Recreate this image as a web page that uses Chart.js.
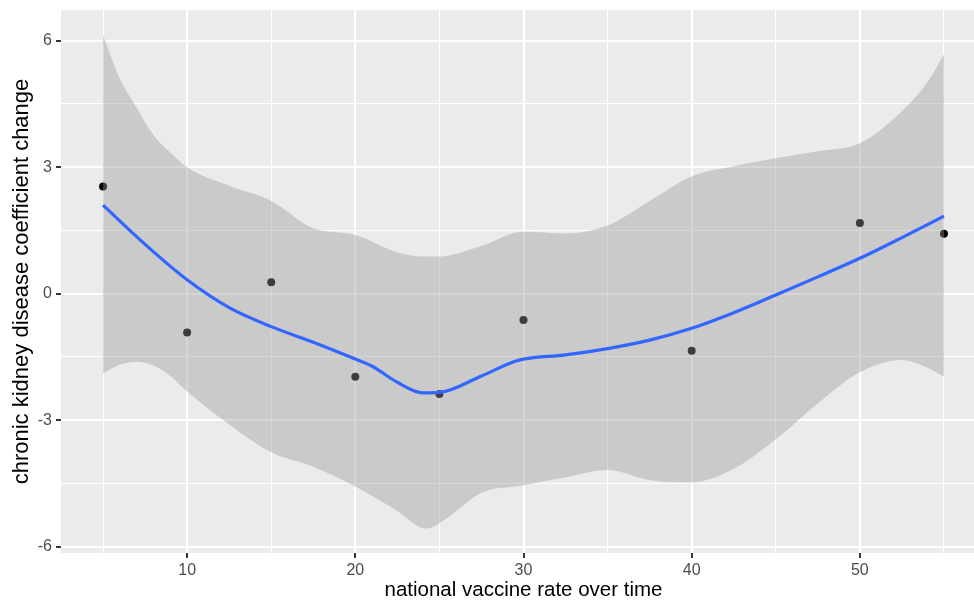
<!DOCTYPE html>
<html>
<head>
<meta charset="utf-8">
<script src="https://cdn.jsdelivr.net/npm/chart.js@4"></script>
<style>
  html, body { margin: 0; padding: 0; background: #ffffff; }
  #wrap { width: 974px; height: 603px; overflow: hidden; position: relative; }
  canvas { display: block; }
</style>
</head>
<body>
<div id="wrap"><canvas id="c" width="990" height="603" style="width:990px;height:603px"></canvas></div>
<script>
// Observed points
const pointX = [5, 10, 15, 20, 25, 30, 40, 50, 55];
const pointY = [2.54, -0.92, 0.27, -1.97, -2.38, -0.62, -1.35, 1.68, 1.42];

// Smoothed (loess) fit
const fitX = [5, 7.5, 10, 12.5, 15, 17.5, 20, 21, 22.5, 24, 25, 27.5, 29.5, 30, 32.5, 35, 37.5, 40, 42.5, 45, 47.5, 50, 52.5, 55];
const fitY = [2.10, 1.17, 0.33, -0.33, -0.78, -1.15, -1.55, -1.72, -2.10, -2.35, -2.34, -1.95, -1.60, -1.55, -1.45, -1.30, -1.10, -0.82, -0.45, -0.03, 0.40, 0.84, 1.33, 1.84];

// Confidence band
const bandX     = [5, 6, 7, 8, 9, 10, 12.5, 15, 17.5, 20, 22.5, 24.2, 25, 26, 27.5, 30, 32.5, 35, 37.5, 40, 42.5, 45, 47.5, 50, 52.5, 54, 55];
const bandUpper = [6.13, 5.10, 4.41, 3.76, 3.35, 3.00, 2.56, 2.20, 1.55, 1.39, 0.98, 0.88, 0.88, 0.95, 1.13, 1.47, 1.43, 1.62, 2.20, 2.78, 3.02, 3.21, 3.38, 3.57, 4.33, 5.00, 5.68];
const bandLower = [-1.89, -1.68, -1.61, -1.70, -1.95, -2.32, -3.10, -3.76, -4.10, -4.57, -5.15, -5.57, -5.44, -5.15, -4.72, -4.54, -4.35, -4.18, -4.42, -4.47, -4.15, -3.45, -2.60, -1.86, -1.57, -1.75, -1.97];

// Axis ticks
const xTickLabels = [10, 20, 30, 40, 50];
const yTickLabels = [-6, -3, 0, 3, 6];

const xTitle = 'national vaccine rate over time';
const yTitle = 'chronic kidney disease coefficient change';

const xRange = [2.5, 57.5];
const yRange = [-6.148, 6.728];

function withMinors(majors, lo, hi) {
  const step = majors[1] - majors[0];
  const vals = new Set(majors);
  majors.forEach(v => { vals.add(v - step / 2); vals.add(v + step / 2); });
  return Array.from(vals).filter(v => v >= lo && v <= hi).sort((a, b) => a - b);
}
const xAll = withMinors(xTickLabels, xRange[0], xRange[1]);
const yAll = withMinors(yTickLabels, yRange[0], yRange[1]);
const isMajorX = v => xTickLabels.includes(v);
const isMajorY = v => yTickLabels.includes(v);

const toXY = (xs, ys) => xs.map((x, i) => ({ x: x, y: ys[i] }));

const panelBg = {
  id: 'panelBg',
  beforeDraw(chart) {
    const { ctx, chartArea: a } = chart;
    ctx.save();
    ctx.fillStyle = '#EBEBEB';
    ctx.fillRect(a.left, a.top, a.right - a.left, a.bottom - a.top);
    ctx.restore();
  }
};

const tickFont = { family: "'Liberation Sans', Arial, sans-serif", size: 16 };

new Chart(document.getElementById('c'), {
  type: 'line',
  data: {
    datasets: [
      {
        label: 'points',
        data: toXY(pointX, pointY),
        showLine: false,
        pointRadius: 4,
        pointBackgroundColor: '#000000',
        pointBorderWidth: 0,
        order: 4
      },
      {
        label: 'lower',
        data: toXY(bandX, bandLower),
        borderWidth: 0,
        borderColor: 'rgba(0,0,0,0)',
        pointRadius: 0,
        fill: false,
        cubicInterpolationMode: 'monotone',
        order: 3
      },
      {
        label: 'upper',
        data: toXY(bandX, bandUpper),
        borderWidth: 0,
        borderColor: 'rgba(0,0,0,0)',
        pointRadius: 0,
        fill: '-1',
        backgroundColor: 'rgba(153,153,153,0.4)',
        cubicInterpolationMode: 'monotone',
        order: 2
      },
      {
        label: 'fit',
        data: toXY(fitX, fitY),
        borderColor: '#3366FF',
        borderWidth: 3.2,
        pointRadius: 0,
        fill: false,
        cubicInterpolationMode: 'monotone',
        order: 1
      }
    ]
  },
  options: {
    responsive: false,
    devicePixelRatio: 1,
    animation: false,
    events: [],
    layout: { padding: { top: 10, right: 3, left: 0, bottom: 0 } },
    plugins: { legend: { display: false }, tooltip: { enabled: false } },
    scales: {
      x: {
        type: 'linear',
        min: xRange[0],
        max: xRange[1],
        afterBuildTicks: axis => { axis.ticks = xAll.map(v => ({ value: v })); },
        afterFit: axis => { axis.height = 50; axis.paddingLeft = 0; axis.paddingRight = 0; },
        ticks: {
          autoSkip: false,
          maxRotation: 0,
          padding: 3,
          color: '#4D4D4D',
          font: tickFont,
          callback: v => isMajorX(v) ? String(v) : ''
        },
        grid: {
          color: '#FFFFFF',
          lineWidth: c => isMajorX(c.tick.value) ? 2 : 1,
          tickColor: c => isMajorX(c.tick.value) ? '#333333' : 'rgba(0,0,0,0)',
          tickWidth: 2,
          tickLength: 5,
          drawTicks: true
        },
        border: { display: false },
        title: {
          display: true,
          text: xTitle,
          color: '#000000',
          font: { family: "'Liberation Sans', Arial, sans-serif", size: 20.5 },
          padding: { top: 0, bottom: 0 }
        }
      },
      y: {
        type: 'linear',
        min: yRange[0],
        max: yRange[1],
        afterBuildTicks: axis => { axis.ticks = yAll.map(v => ({ value: v })); },
        afterFit: axis => { axis.width = 61; axis.paddingTop = 0; axis.paddingBottom = 0; },
        ticks: {
          autoSkip: false,
          padding: 4,
          color: '#4D4D4D',
          font: tickFont,
          callback: v => isMajorY(v) ? String(v) : ''
        },
        grid: {
          color: '#FFFFFF',
          lineWidth: c => isMajorY(c.tick.value) ? 2 : 1,
          tickColor: c => isMajorY(c.tick.value) ? '#333333' : 'rgba(0,0,0,0)',
          tickWidth: 2,
          tickLength: 5,
          drawTicks: true
        },
        border: { display: false },
        title: {
          display: true,
          text: yTitle,
          color: '#000000',
          font: { family: "'Liberation Sans', Arial, sans-serif", size: 22 },
          padding: { top: 9, bottom: 0 }
        }
      }
    }
  },
  plugins: [panelBg]
});
</script>
</body>
</html>
